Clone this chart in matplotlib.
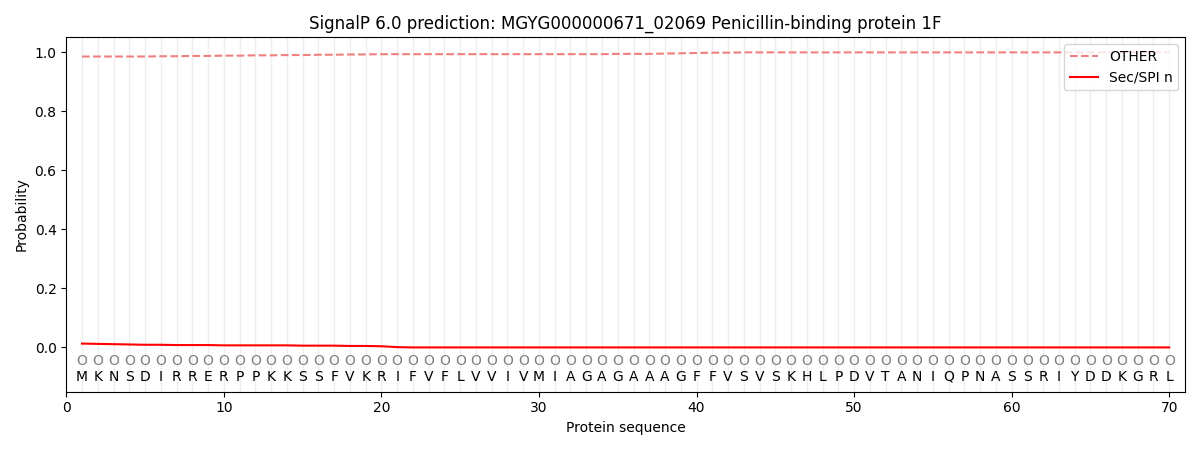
import numpy as np
import matplotlib.pyplot as plt

seq = "MKNSDIRRERPPKKSSFVKRIFVFLVVIVMIAGAGAAAGFFVSVSKHLPDVTANIQPNASSRIYDDKGRL"
pos = np.arange(1, len(seq) + 1)
labels = ["O"] * len(seq)

other = [0.985, 0.985, 0.985, 0.985, 0.985, 0.986, 0.986, 0.987, 0.987, 0.988,
         0.988, 0.989, 0.989, 0.990, 0.990, 0.991, 0.991, 0.992, 0.992, 0.993,
         0.993, 0.993, 0.993, 0.993, 0.993, 0.993, 0.993, 0.993, 0.993, 0.993,
         0.993, 0.993, 0.993, 0.993, 0.994, 0.994, 0.994, 0.995, 0.996, 0.997,
         0.998, 0.998, 0.999, 0.999, 0.999, 0.999, 0.999, 0.999, 0.999, 0.999,
         0.999, 0.999, 0.999, 0.999, 0.999, 0.999, 0.999, 0.999, 0.999, 0.999,
         0.999, 0.999, 0.999, 0.999, 0.999, 0.999, 0.999, 0.999, 0.999, 0.999]
sec_n = [0.013, 0.012, 0.011, 0.010, 0.009, 0.009, 0.008, 0.008, 0.008, 0.007,
         0.007, 0.007, 0.007, 0.007, 0.006, 0.006, 0.006, 0.005, 0.005, 0.004,
         0.001, 0.0, 0.0, 0.0, 0.0, 0.0, 0.0, 0.0, 0.0, 0.0,
         0.0, 0.0, 0.0, 0.0, 0.0, 0.0, 0.0, 0.0, 0.0, 0.0,
         0.0, 0.0, 0.0, 0.0, 0.0, 0.0, 0.0, 0.0, 0.0, 0.0,
         0.0, 0.0, 0.0, 0.0, 0.0, 0.0, 0.0, 0.0, 0.0, 0.0,
         0.0, 0.0, 0.0, 0.0, 0.0, 0.0, 0.0, 0.0, 0.0, 0.0]

fig, ax = plt.subplots(figsize=(12, 4.5), dpi=100)

for p in pos:
    ax.axvline(p, color="#eeeeee", lw=1, zorder=0)

ax.plot(pos, other, "--", color="#f08080", label="OTHER")
ax.plot(pos, sec_n, "-", color="red", label="Sec/SPI n")

for p, aa, lab in zip(pos, seq, labels):
    ax.text(p, -0.045, lab, ha="center", va="center", color="grey", fontsize=10)
    ax.text(p, -0.1, aa, ha="center", va="center", color="black", fontsize=10)

ax.set_xlim(0, 71)
ax.set_ylim(-0.15, 1.05)
ax.set_xlabel("Protein sequence")
ax.set_ylabel("Probability")
ax.set_title("SignalP 6.0 prediction: MGYG000000671_02069 Penicillin-binding protein 1F")
ax.legend(loc="upper right")

plt.tight_layout()
plt.savefig("out.png")
